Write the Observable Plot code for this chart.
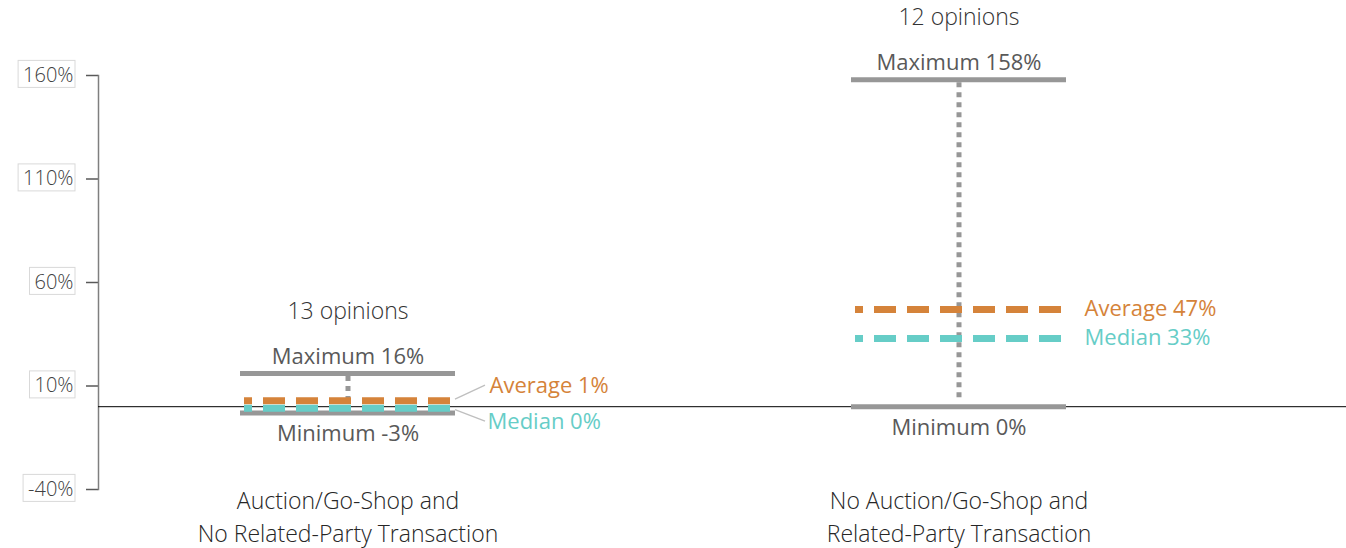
<!DOCTYPE html>
<html><head><meta charset="utf-8">
<script src="https://cdn.jsdelivr.net/npm/d3@7"></script>
<script src="https://cdn.jsdelivr.net/npm/@observablehq/plot@0.6"></script>
<style>html,body{margin:0;padding:0;background:#fff;overflow:hidden}</style>
</head><body><div id="chart"></div>
<script>
// ---- data ----
const categories = ["Auction/Go-Shop and\nNo Related-Party Transaction", "No Auction/Go-Shop and\nRelated-Party Transaction"];
const opinions = [13, 12];
const maximum = [16, 158];
const minimum = [-3, 0];
const average = [1, 47];
const median = [0, 33];
const yTicks = [-40, 10, 60, 110, 160];

const rows = categories.map((c, i) => ({cat: c, n: opinions[i], max: maximum[i], min: minimum[i], avg: average[i], med: median[i]}));

const W = 1346, H = 548;
const mt = 75, mb = 59, ml = 98, mr = 0;
const GRAY = "#979797", ORANGE = "#D5833A", TEAL = "#66CDC7";
const FONT = "'Open Sans', Lato, sans-serif";
const xOpts = {type: "band", domain: categories, paddingInner: 0.648, paddingOuter: 0.345, align: 0.336, axis: null};
const yOpts = {domain: [-40, 160], axis: null};

// dry run to get the band width
const probe = Plot.plot({width: W, height: H, marginTop: mt, marginBottom: mb, marginLeft: ml, marginRight: mr, x: xOpts, y: yOpts, marks: [Plot.dot(rows, {x: "cat", y: "max"})]});
const bw = probe.scale("x").bandwidth;
const pxPerUnit = (H - mt - mb) / (yOpts.domain[1] - yOpts.domain[0]);

// label placement: push avg/median apart when they would collide
rows.forEach(d => {
  const gap = Math.abs(d.avg - d.med) * pxPerUnit;
  d.leader = gap < 20;
  d.avgLabel = d.leader ? d.avg + 19 / pxPerUnit : d.avg;
  d.medLabel = d.leader ? d.med - 15 / pxPerUnit : d.med;
});
const near = rows.filter(d => d.leader), far = rows.filter(d => !d.leader);
const AVG_DY = -4, MED_DY = 1.5;

function leaders(index, scales) {
  const {x, y} = scales;
  const g = d3.create("svg:g");
  near.forEach(d => {
    const x0 = x(d.cat) + bw, x1 = x(d.cat) + bw + 30;
    [[d.avg, AVG_DY - 1, d.avgLabel], [d.med, MED_DY + 2, d.medLabel]].forEach(([v, off, lv]) => {
      g.append("line").attr("x1", x0).attr("y1", y(v) + off).attr("x2", x1).attr("y2", y(lv))
        .attr("stroke", "#BFBFBF").attr("stroke-width", 1.3);
    });
  });
  return g.node();
}

const dash = {strokeWidth: 7, strokeDasharray: "22,11", strokeDashoffset: 14, inset: 4};
const lab = {fontSize: 22, fontWeight: 400};

const plot = Plot.plot({
  width: W, height: H,
  marginTop: mt, marginBottom: mb, marginLeft: ml, marginRight: mr,
  style: {fontFamily: FONT, background: "#fff", overflow: "visible"},
  x: xOpts, y: yOpts,
  marks: [
    Plot.axisY({ticks: yTicks, tickFormat: d => d + "%", tickSize: 12, tickPadding: 13, stroke: "#595959", strokeWidth: 1.5, fill: "#404040", fontSize: 20, fontWeight: 300, label: null}),
    Plot.frame({anchor: "left", stroke: "#7F7F7F", strokeWidth: 1.5}),
    Plot.axisX({tickSize: 0, tickPadding: 0, dy: -3, fontSize: 23, fontWeight: 300, lineHeight: 1.4, fill: "#262626", label: null}),
    Plot.ruleX(rows, {x: "cat", y1: "max", y2: "min", stroke: GRAY, strokeWidth: 5, strokeDasharray: "5,5", insetTop: 3, insetBottom: 5}),
    Plot.ruleY([0], {stroke: "#000", strokeWidth: 1}),
    Plot.tickY(rows, {x: "cat", y: "max", stroke: GRAY, strokeWidth: 5}),
    Plot.tickY(rows, {x: "cat", y: "min", stroke: GRAY, strokeWidth: 5}),
    Plot.tickY(far, {x: "cat", y: "avg", stroke: ORANGE, ...dash}),
    Plot.tickY(far, {x: "cat", y: "med", stroke: TEAL, ...dash}),
    Plot.tickY(near, {x: "cat", y: "avg", stroke: ORANGE, dy: AVG_DY, ...dash}),
    Plot.tickY(near, {x: "cat", y: "med", stroke: TEAL, dy: MED_DY, ...dash}),
    leaders,
    Plot.text(rows, {x: "cat", y: "max", text: d => `${d.n} opinions`, dy: -62, fill: "#333", fontSize: 23, fontWeight: 300}),
    Plot.text(rows, {x: "cat", y: "max", text: d => `Maximum ${d.max}%`, dy: -17, fill: "#595959", ...lab}),
    Plot.text(rows, {x: "cat", y: "min", text: d => `Minimum ${d.min}%`, dy: 21, fill: "#595959", ...lab}),
    Plot.text(near, {x: "cat", y: "avgLabel", text: d => `Average ${d.avg}%`, dx: bw / 2 + 34, textAnchor: "start", fill: ORANGE, ...lab}),
    Plot.text(near, {x: "cat", y: "medLabel", text: d => `Median ${d.med}%`, dx: bw / 2 + 32, textAnchor: "start", fill: TEAL, ...lab}),
    Plot.text(far, {x: "cat", y: "avgLabel", text: d => `Average ${d.avg}%`, dx: bw / 2 + 18, textAnchor: "start", fill: ORANGE, ...lab}),
    Plot.text(far, {x: "cat", y: "medLabel", text: d => `Median ${d.med}%`, dx: bw / 2 + 18, textAnchor: "start", fill: TEAL, ...lab})
  ]
});
document.getElementById("chart").appendChild(plot);

// boxes around the y tick labels
d3.select(plot).selectAll('g[aria-label="y-axis tick label"] text').each(function() {
  const b = this.getBBox();
  const t = this.getAttribute("transform");
  d3.select(this.parentNode).insert("rect", () => this)
    .attr("transform", t)
    .attr("x", b.x - 5).attr("y", b.y - 0.5).attr("width", b.width + 6.5).attr("height", b.height)
    .attr("fill", "#fff").attr("stroke", "#D9D9D9").attr("stroke-width", 1);
});
</script>
</body></html>
